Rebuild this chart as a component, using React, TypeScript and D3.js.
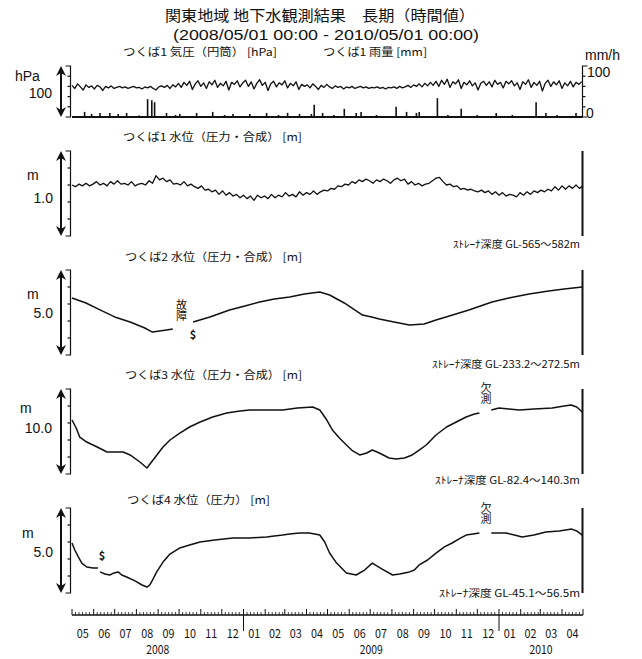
import * as d3 from 'd3'

const W = 642
const H = 659
const parse = d3.utcParse('%Y-%m-%d')

const startDate = '2008-05-01'
const endDate = '2010-05-01'

const title1 = '関東地域 地下水観測結果　長期（時間値）'
const title2 = '(2008/05/01 00:00 - 2010/05/01 00:00)'

// つくば1 気圧, one reading every 4 days [hPa]
const pressureStep = 4
const pressure = [
  1012, 1006, 1015, 1009, 1003, 1013, 1008, 1011, 1005, 1012, 1009, 1002, 1010, 1007, 1011, 1006,
  1008, 1010, 1007, 1009, 1006, 1008, 1010, 1007, 1008, 1005, 1009, 1007, 1010, 1006, 1003, 1009, 1011, 1008, 1012, 1006, 1013, 1009,
  1016, 1008, 1018, 1012, 1020, 1004, 1015, 1021, 1010, 1017, 1006, 1019, 1013, 1022, 1008, 1016, 1011, 1020, 1003, 1018, 1014, 1021, 1009,
  1017, 1022, 1010, 1019, 1005, 1016, 1023, 1012, 1018, 1002, 1015, 1020, 1009, 1017, 1013, 1021, 1007, 1016, 1011, 1019, 1004, 1014, 1010,
  1013, 1007, 1015, 1010, 1004, 1012, 1008, 1014, 1009, 1006, 1011, 1008, 1010, 1005, 1009, 1007, 1010, 1006, 1008, 1010, 1007, 1009, 1006, 1008,
  1007, 1009, 1006, 1008, 1005, 1008, 1007, 1009, 1006, 1010, 1007, 1009, 1012, 1008, 1013, 1010, 1015, 1009, 1016, 1011, 1018, 1012, 1020,
  1010, 1022, 1014, 1024, 1008, 1019, 1015, 1023, 1006, 1018, 1013, 1021, 1011, 1017, 1003, 1016, 1020, 1012, 1019, 1009, 1022, 1014, 1018, 1007, 1020, 1015,
  1021, 1011, 1017, 1004, 1019, 1014, 1023, 1008, 1018, 1012, 1020, 1001, 1016, 1022, 1010, 1019, 1013, 1021, 1006, 1017, 1011, 1020, 1009, 1018, 1014, 1019,
]

// つくば1 雨量 [mm/h]
const rainDates = [
  '2008-05-19', '2008-05-29', '2008-06-10', '2008-06-24', '2008-07-06', '2008-07-18', '2008-08-05',
  '2008-08-17', '2008-08-23', '2008-08-27', '2008-09-13', '2008-09-26', '2008-10-02', '2008-10-26',
  '2008-11-18', '2008-12-05', '2008-12-17', '2009-01-10', '2009-02-03', '2009-02-20', '2009-03-05',
  '2009-03-22', '2009-04-08', '2009-04-12', '2009-04-24', '2009-05-10', '2009-05-25', '2009-06-11',
  '2009-06-18', '2009-07-10', '2009-08-07', '2009-08-22', '2009-09-05', '2009-09-09', '2009-10-05',
  '2009-10-20', '2009-11-08', '2009-12-01', '2009-12-28', '2010-01-20', '2010-02-23', '2010-03-09',
  '2010-03-25', '2010-04-21',
]
const rainMm = [
  10, 6, 8, 8, 6, 8, 3,
  35, 33, 29, 8, 4, 6, 8,
  10, 4, 6, 6, 8, 4, 8,
  6, 6, 24, 8, 4, 16, 8,
  10, 4, 20, 10, 8, 10, 37,
  4, 16, 4, 8, 4, 29, 8,
  4, 8,
]

// つくば1 水位, one reading every 5 days [m]
const level1Step = 5
const level1 = [
  2.60, 2.58, 2.61, 2.59, 2.62, 2.59, 2.61, 2.64, 2.60, 2.62, 2.59, 2.64, 2.61, 2.65, 2.61, 2.62, 2.60, 2.64, 2.59, 2.61, 2.62, 2.60, 2.65, 2.62,
  2.71, 2.66, 2.68, 2.64, 2.66, 2.61, 2.62, 2.60, 2.64, 2.59, 2.61, 2.58, 2.56, 2.59, 2.54, 2.55, 2.52, 2.54, 2.49, 2.53, 2.48, 2.51, 2.47, 2.49,
  2.45, 2.48, 2.44, 2.47, 2.42, 2.48, 2.45, 2.47, 2.44, 2.49, 2.45, 2.48, 2.46, 2.51, 2.47, 2.49, 2.46, 2.52, 2.48, 2.51, 2.49, 2.53, 2.49, 2.52,
  2.54, 2.53, 2.56, 2.55, 2.59, 2.58, 2.61, 2.60, 2.64, 2.62, 2.66, 2.64, 2.67, 2.65, 2.62, 2.66, 2.64, 2.67, 2.65, 2.62, 2.66, 2.68, 2.65, 2.67,
  2.61, 2.64, 2.60, 2.62, 2.59, 2.61, 2.62, 2.65, 2.68, 2.69, 2.64, 2.60, 2.61, 2.58, 2.59, 2.55, 2.56, 2.54, 2.55, 2.53, 2.52, 2.54, 2.51, 2.53,
  2.49, 2.52, 2.48, 2.51, 2.47, 2.49, 2.48, 2.46, 2.51, 2.48, 2.52, 2.49, 2.53, 2.51, 2.54, 2.52, 2.55, 2.53, 2.58, 2.54, 2.59, 2.55, 2.59, 2.56, 2.60, 2.56, 2.59,
]

// つくば2 水位 [m] (null = 故障)
const level2Dates = [
  '2008-05-01', '2008-05-21', '2008-06-10', '2008-07-01', '2008-07-23', '2008-08-13', '2008-08-24', '2008-09-03',
  '2008-09-13', '2008-09-22', '2008-10-05', '2008-10-21', '2008-11-14', '2008-12-12', '2009-01-03', '2009-01-24',
  '2009-02-14', '2009-03-08', '2009-03-29', '2009-04-20', '2009-05-04', '2009-05-25', '2009-06-20', '2009-07-03',
  '2009-07-14', '2009-08-04', '2009-08-26', '2009-09-16', '2009-10-03', '2009-10-22', '2009-11-19', '2009-12-22',
  '2010-01-15', '2010-02-13', '2010-03-13', '2010-04-04', '2010-04-30',
]
const level2 = [
  13.35, 13.06, 12.65, 12.24, 11.94, 11.59, 11.35, 11.41,
  11.47, 11.53, null, 11.94, 12.24, 12.65, 12.88, 13.12,
  13.29, 13.41, 13.59, 13.71, 13.53, 13.06, 12.35, 12.24,
  12.12, 11.94, 11.76, 11.82, 12.06, 12.29, 12.65, 13.12,
  13.35, 13.59, 13.76, 13.88, 14.00,
]

// つくば3 水位 [m] (null = 欠測)
const level3Dates = [
  '2008-05-01', '2008-05-07', '2008-05-12', '2008-05-22', '2008-06-06', '2008-06-20', '2008-07-01', '2008-07-13',
  '2008-07-23', '2008-08-06', '2008-08-16', '2008-08-27', '2008-09-08', '2008-09-18', '2008-10-02', '2008-10-16',
  '2008-10-31', '2008-11-18', '2008-12-08', '2008-12-27', '2009-01-10', '2009-01-31', '2009-02-26', '2009-03-19',
  '2009-04-10', '2009-04-20', '2009-04-30', '2009-05-08', '2009-05-18', '2009-05-28', '2009-06-06', '2009-06-16',
  '2009-06-26', '2009-07-04', '2009-07-14', '2009-07-28', '2009-08-07', '2009-08-19', '2009-08-30', '2009-09-09',
  '2009-09-19', '2009-10-03', '2009-10-18', '2009-11-01', '2009-11-15', '2009-11-27', '2009-12-04', '2009-12-12',
  '2009-12-21', '2010-01-01', '2010-01-15', '2010-01-30', '2010-02-20', '2010-03-18', '2010-04-04', '2010-04-14',
  '2010-04-22', '2010-04-30',
]
const level3 = [
  26.35, 25.41, 24.35, 23.76, 23.18, 22.59, 22.59, 22.59,
  22.24, 21.41, 20.71, 21.88, 23.18, 24.00, 24.82, 25.53,
  26.12, 26.71, 27.18, 27.41, 27.53, 27.53, 27.53, 27.76,
  27.88, 27.53, 26.35, 25.18, 24.24, 23.41, 22.71, 22.24,
  22.47, 22.82, 22.47, 21.88, 21.76, 21.88, 22.24, 22.82,
  23.41, 24.59, 25.53, 26.12, 26.71, 27.06, 27.18, null,
  27.53, 27.76, 27.65, 27.53, 27.65, 27.76, 28.00, 28.12,
  27.88, 27.29,
]

// つくば4 水位 [m] (null = 欠測 / $)
const level4Dates = [
  '2008-05-01', '2008-05-05', '2008-05-10', '2008-05-15', '2008-05-22', '2008-05-31', '2008-06-07', '2008-06-08',
  '2008-06-10', '2008-06-17', '2008-06-24', '2008-06-30', '2008-07-06', '2008-07-11', '2008-07-18', '2008-07-30',
  '2008-08-09', '2008-08-16', '2008-08-20', '2008-08-24', '2008-08-30', '2008-09-08', '2008-09-18', '2008-10-02',
  '2008-10-16', '2008-10-31', '2008-11-21', '2008-12-17', '2009-01-10', '2009-02-03', '2009-02-14', '2009-02-26',
  '2009-03-08', '2009-03-22', '2009-04-05', '2009-04-20', '2009-04-27', '2009-05-04', '2009-05-14', '2009-05-28',
  '2009-06-11', '2009-06-23', '2009-07-04', '2009-07-18', '2009-08-02', '2009-08-12', '2009-08-26', '2009-09-02',
  '2009-09-09', '2009-09-21', '2009-10-03', '2009-10-15', '2009-10-26', '2009-11-05', '2009-11-15', '2009-11-25',
  '2009-12-04', '2009-12-12', '2009-12-21', '2010-01-11', '2010-01-23', '2010-02-03', '2010-02-20', '2010-03-09',
  '2010-03-28', '2010-04-15', '2010-04-22', '2010-04-30',
]
const level4 = [
  22.94, 22.53, 22.12, 21.76, 21.53, 21.47, 21.47, null,
  21.24, 21.12, 21.06, 21.18, 21.24, 21.06, 20.94, 20.71,
  20.47, 20.35, 20.47, 20.76, 21.24, 21.82, 22.29, 22.65,
  22.82, 23.00, 23.12, 23.24, 23.24, 23.29, 23.35, 23.41,
  23.47, 23.53, 23.53, 23.41, 23.00, 22.35, 21.76, 21.18,
  21.06, 21.35, 21.76, 21.41, 21.06, 21.12, 21.24, 21.35,
  21.65, 21.94, 22.35, 22.71, 22.94, 23.18, 23.41, 23.47,
  23.53, null, 23.53, 23.53, 23.41, 23.29, 23.41, 23.59,
  23.65, 23.76, 23.65, 23.41,
]

const yearLabels = ['2008', '2009', '2010']

type Pt = [Date, number | null]

const zip = (dates: string[], vals: (number | null)[]): Pt[] =>
  dates.map((d, i) => [parse(d)!, vals[i]])
const stepped = (vals: number[], step: number): Pt[] =>
  vals.map((v, i) => [d3.utcDay.offset(parse(startDate)!, i * step), v])

const jp = "'Noto Sans CJK JP', sans-serif"
const latin = "'Liberation Sans', Arial, sans-serif"

function Arrow({ top, bottom }: { top: number; bottom: number }) {
  const cx = 61
  return (
    <g>
      <line x1={cx} x2={cx} y1={top + 6} y2={bottom - 6} stroke="#111" strokeWidth={2} />
      <path d={`M${cx},${top} L${cx - 5},${top + 10} L${cx},${top + 7} L${cx + 5},${top + 10}Z`} fill="#111" />
      <path d={`M${cx},${bottom} L${cx - 5},${bottom - 10} L${cx},${bottom - 7} L${cx + 5},${bottom - 10}Z`} fill="#111" />
    </g>
  )
}

function Bracket({ top, bottom, xv, dir }: { top: number; bottom: number; xv: number; dir: number }) {
  const ticks = d3.range(6).map(i => top + ((bottom - top) * i) / 5)
  return (
    <g stroke="#111" fill="none" strokeWidth={1.2}>
      <path d={`M${xv + dir * 5},${top} H${xv} V${bottom} H${xv + dir * 5}`} />
      {ticks.slice(1, 5).map((t, i) => (
        <line key={i} x1={xv} x2={xv + dir * 3} y1={t} y2={t} />
      ))}
    </g>
  )
}

// two stacked characters, written vertically
function VNote({ x, y, text }: { x: number; y: number; text: string }) {
  return (
    <text x={x} y={y} fontSize={11} fill="#111" writingMode="tb" style={{ writingMode: 'vertical-rl' }}>
      {text}
    </text>
  )
}

export default function App() {
  const x = d3.scaleUtc().domain([parse(startDate)!, parse(endDate)!]).range([72, 583])
  const xR = 582.5

  const panels = [
    { top: 66, bottom: 117 },
    { top: 151, bottom: 236, domain: [2.0, 3.0], data: stepped(level1, level1Step), width: 1.3 },
    { top: 270, bottom: 355, domain: [10, 15], data: zip(level2Dates, level2), width: 1.5 },
    { top: 389, bottom: 474, domain: [20, 30], data: zip(level3Dates, level3), width: 1.5 },
    { top: 508, bottom: 593, domain: [20, 25], data: zip(level4Dates, level4), width: 1.5 },
  ]

  const unitLabels = [
    { unit: 'hPa', span: '100', ux: 15, uy: 81, sx: 52, sy: 98 },
    { unit: 'm', span: '1.0', ux: 27, uy: 180, sx: 53, sy: 203 },
    { unit: 'm', span: '5.0', ux: 27, uy: 299, sx: 53, sy: 318 },
    { unit: 'm', span: '10.0', ux: 20, uy: 413, sx: 52, sy: 433 },
    { unit: 'm', span: '5.0', ux: 22, uy: 538, sx: 53, sy: 557 },
  ]

  const titles = [
    { text: 'つくば1 気圧（円筒） [hPa]', x: 123, y: 56, len: 154 },
    { text: 'つくば1 雨量 [mm]', x: 323, y: 56, len: 104 },
    { text: 'つくば1 水位（圧力・合成） [m]', x: 123, y: 141, len: 179 },
    { text: 'つくば2 水位（圧力・合成） [m]', x: 125, y: 261, len: 177 },
    { text: 'つくば3 水位（圧力・合成） [m]', x: 125, y: 379, len: 177 },
    { text: 'つくば4 水位（圧力） [m]', x: 127, y: 504, len: 143 },
  ]

  const depths = [
    { text: 'ｽﾄﾚｰﾅ深度 GL-565～582m', y: 248, len: 127 },
    { text: 'ｽﾄﾚｰﾅ深度 GL-233.2～272.5m', y: 368, len: 148 },
    { text: 'ｽﾄﾚｰﾅ深度 GL-82.4～140.3m', y: 484, len: 145 },
    { text: 'ｽﾄﾚｰﾅ深度 GL-45.1～56.5m', y: 597, len: 141 },
  ]

  // pressure + rain
  const p1 = panels[0]
  const yP = d3.scaleLinear().domain([950, 1050]).range([p1.bottom, p1.top])
  const yRain = d3.scaleLinear().domain([0, 100]).range([p1.bottom, p1.top])
  const pressurePts = stepped(pressure, pressureStep)
  const pLine = d3.line<Pt>().x(d => x(d[0])).y(d => yP(d[1] as number))
  const rain = zip(rainDates, rainMm)

  // time axis
  const axisY = 615
  const end = parse(endDate)!
  const months = d3.utcMonth.range(parse(startDate)!, end)
  const minor = d3.utcDay.range(parse(startDate)!, end).filter(d => [6, 11, 16, 21, 26].includes(d.getUTCDate()))
  const yearStarts = [parse(startDate)!, parse('2009-01-01')!, parse('2010-01-01')!, end]

  return (
    <svg width={W} height={H} style={{ position: 'absolute', left: 0, top: 0, background: '#fff' }} fontFamily={jp}>
      <rect width={W} height={H} fill="#fff" />
      <text x={320} y={21} textAnchor="middle" fontSize={15} textLength={310} lengthAdjust="spacingAndGlyphs" fill="#111">{title1}</text>
      <text x={326} y={40} textAnchor="middle" fontFamily={latin} fontSize={15} textLength={306} lengthAdjust="spacingAndGlyphs" fill="#111">{title2}</text>

      {titles.map((t, i) => (
        <text key={i} x={t.x} y={t.y} fontSize={11} textLength={t.len} lengthAdjust="spacingAndGlyphs" fill="#111">{t.text}</text>
      ))}
      {depths.map((t, i) => (
        <text key={i} x={580} y={t.y} fontSize={10} textAnchor="end" textLength={t.len} lengthAdjust="spacingAndGlyphs" fill="#111">{t.text}</text>
      ))}

      {panels.map((p, i) => (
        <g key={i}>
          <Arrow top={p.top} bottom={p.bottom} />
          <Bracket top={p.top} bottom={p.bottom} xv={70.5} dir={-1} />
          <text x={unitLabels[i].ux} y={unitLabels[i].uy} fontFamily={latin} fontSize={14} fill="#111">{unitLabels[i].unit}</text>
          <text x={unitLabels[i].sx} y={unitLabels[i].sy} fontFamily={latin} fontSize={14} textAnchor="end" fill="#111">{unitLabels[i].span}</text>
          {p.data && (
            <>
              <line x1={xR} x2={xR} y1={p.top} y2={p.bottom} stroke="#111" strokeWidth={2} />
              <path
                d={d3.line<Pt>().defined(d => d[1] != null).x(d => x(d[0])).y(d => d3.scaleLinear().domain(p.domain!).range([p.bottom, p.top])(d[1] as number))(p.data) ?? ''}
                fill="none" stroke="#111" strokeWidth={p.width} strokeLinejoin="round"
              />
            </>
          )}
        </g>
      ))}

      {/* panel 1: pressure and rain */}
      <Bracket top={p1.top} bottom={p1.bottom} xv={xR} dir={1} />
      <line x1={72} x2={xR} y1={p1.bottom} y2={p1.bottom} stroke="#111" strokeWidth={2} />
      {rain.map((d, i) => (
        <line key={i} x1={x(d[0])} x2={x(d[0])} y1={yRain(0)} y2={yRain(d[1] as number)} stroke="#111" strokeWidth={1.6} />
      ))}
      <path d={pLine(pressurePts) ?? ''} fill="none" stroke="#111" strokeWidth={1.3} strokeLinejoin="round" />
      <text x={585} y={60} fontFamily={latin} fontSize={14} fill="#111">mm/h</text>
      <text x={587} y={77} fontFamily={latin} fontSize={14} fill="#111">100</text>
      <text x={586} y={118} fontFamily={latin} fontSize={14} fill="#111">0</text>

      {/* annotations */}
      <VNote x={181.5} y={299} text="故障" />
      <text x={193} y={339} fontSize={11} textAnchor="middle" fontWeight="bold" fill="#111">$</text>
      <VNote x={486} y={382} text="欠測" />
      <VNote x={486} y={502} text="欠測" />
      <text x={102} y={560} fontSize={11} textAnchor="middle" fontWeight="bold" fill="#111">$</text>

      {/* time axis */}
      <g stroke="#111">
        <line x1={72} x2={583} y1={axisY} y2={axisY} strokeWidth={1.5} />
        {minor.map((d, i) => (
          <line key={i} x1={x(d)} x2={x(d)} y1={axisY} y2={axisY - 3} strokeWidth={0.8} />
        ))}
        {months.map((d, i) => (
          <line key={i} x1={x(d)} x2={x(d)} y1={axisY} y2={axisY - 6} strokeWidth={1} />
        ))}
        <line x1={583} x2={583} y1={axisY} y2={axisY - 6} strokeWidth={1} />
        {yearStarts.slice(1, 3).map((d, i) => (
          <line key={i} x1={x(d)} x2={x(d)} y1={axisY} y2={axisY + 16} strokeWidth={1} />
        ))}
      </g>
      {months.map((d, i) => {
        const next = d3.utcMonth.offset(d, 1)
        return (
          <text key={i} x={(x(d) + x(next)) / 2} y={638} fontSize={12} textAnchor="middle" textLength={12} lengthAdjust="spacingAndGlyphs" fill="#111">
            {d3.utcFormat('%m')(d)}
          </text>
        )
      })}
      {yearLabels.map((t, i) => (
        <text key={t} x={(x(yearStarts[i]) + x(yearStarts[i + 1])) / 2} y={654} fontSize={12} textAnchor="middle" textLength={23} lengthAdjust="spacingAndGlyphs" fill="#111">
          {t}
        </text>
      ))}
    </svg>
  )
}
